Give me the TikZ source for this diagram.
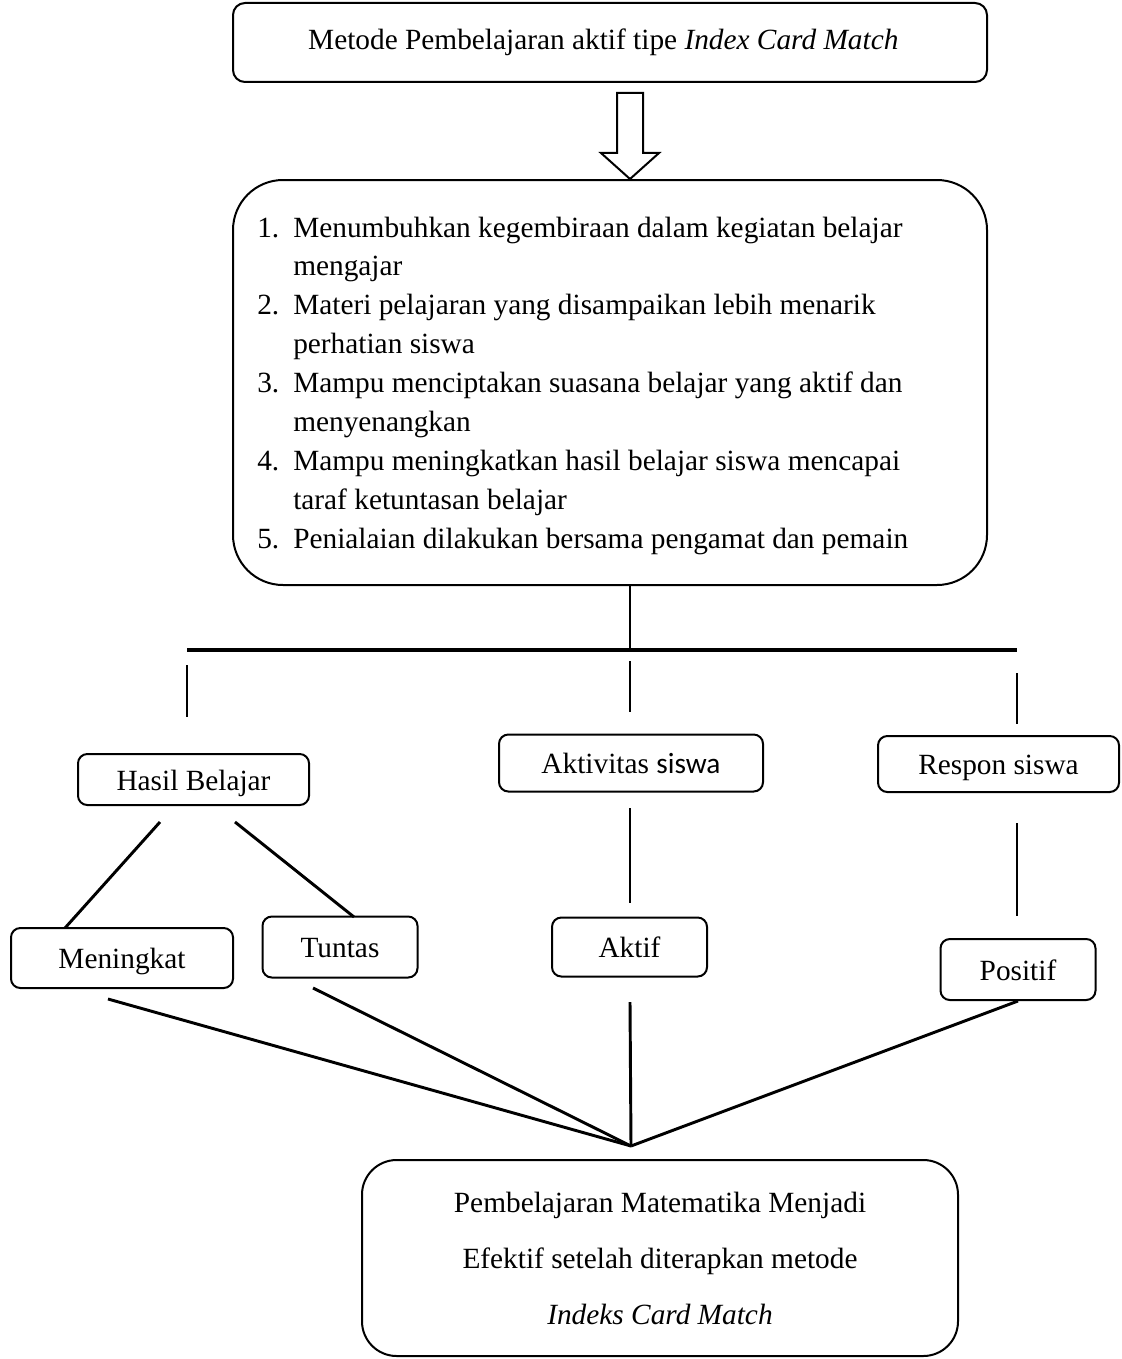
\documentclass[tikz,border=0pt]{standalone}
\usepackage{fontspec}
\setmainfont{Liberation Serif}
\newfontfamily\calibrifont{Carlito}
\usetikzlibrary{calc}
\begin{document}
\begin{tikzpicture}[x=0.75pt,y=-0.75pt,
  box/.style={draw, line width=1.5pt, rounded corners=#1, inner sep=0pt,
    font=\fontsize{22}{26}\selectfont},
  box/.default=7pt,
  small/.style={box, text height=21pt, text depth=5pt},
  conn/.style={line width=2.2pt},
  barline/.style={line width=3pt},
]
\useasboundingbox (0,0) rectangle (1121,1359);

% top box
\node[box=9pt, minimum width=565.5pt, minimum height=59.25pt] (top) at (610,42.5)
  {\hspace*{-10pt}Metode Pembelajaran aktif tipe \textit{Index Card Match}};

% list box
\node[box=37.5pt, minimum width=565.5pt, minimum height=303.75pt] (lst) at (610,382.5) {};
\node[anchor=base west, inner sep=0pt, font=\fontsize{22}{29.2}\selectfont] (lsttext) at (257,237)
  {\begin{tabular}[t]{@{}l@{}l@{}}
   \makebox[27pt][l]{1.} & Menumbuhkan kegembiraan dalam kegiatan belajar\\
   & mengajar\\
   \makebox[27pt][l]{2.} & Materi pelajaran yang disampaikan lebih menarik\\
   & perhatian siswa\\
   \makebox[27pt][l]{3.} & Mampu menciptakan suasana belajar yang aktif dan\\
   & menyenangkan\\
   \makebox[27pt][l]{4.} & Mampu meningkatkan hasil belajar siswa mencapai\\
   & taraf ketuntasan belajar\\
   \makebox[27pt][l]{5.} & Penialaian dilakukan bersama pengamat dan pemain
   \end{tabular}};

% hollow arrow between top box and list box
\coordinate (arrTop) at (630,93);
\coordinate (arrTip) at ($(lst.north)+(20,0)$);
\draw[line width=1.5pt, line join=miter] ($(arrTop)+(-13,0)$) -- ($(arrTop)+(13,0)$) -- (643,153) -- (659,153)
  -- (arrTip) -- (601,153) -- (617,153) -- cycle;

% branch bar
\coordinate (lstOut) at ($(lst.south)+(20,0)$);
\coordinate (barL) at (187,650);
\coordinate (barM) at (630,650);
\coordinate (barR) at (1017,650);
\draw[conn] (lstOut) -- (barM);
\draw[barline] (barL) -- (barR);

\coordinate (vL1) at (187,665); \coordinate (vL2) at (187,717);
\coordinate (vM1) at (630,661); \coordinate (vM2) at (630,712);
\coordinate (vR1) at (1017,673); \coordinate (vR2) at (1017,724);
\draw[conn] (vL1) -- (vL2);
\draw[conn] (vM1) -- (vM2);
\draw[conn] (vR1) -- (vR2);

% second level boxes
\node[small, minimum width=173.25pt, minimum height=38.25pt] (hb) at (193.5,779.5) {Hasil Belajar};
\node[small, minimum width=198pt, minimum height=42.75pt] (akt) at (631,763) {Aktivitas {\calibrifont siswa}};
\node[small, minimum width=180.75pt, minimum height=42pt] (resp) at (998.5,764) {Respon siswa};

% third level boxes
\node[small, minimum width=166.5pt, minimum height=45pt] (men) at (122,958) {Meningkat};
\node[small, minimum width=116.25pt, minimum height=45.75pt] (tun) at (340,947) {Tuntas};
\node[small, minimum width=116.25pt, minimum height=44.25pt] (aktif) at (629.5,947) {Aktif};
\node[small, minimum width=116.25pt, minimum height=45.75pt] (pos) at (1018,969.5) {Positif};

% connectors between levels
\coordinate (hbA) at (160,822); \coordinate (menTop) at (65,928);
\coordinate (hbB) at (235,822); \coordinate (tunTop) at (354,917);
\coordinate (akA) at (630,808); \coordinate (akB) at (630,903);
\coordinate (rA) at (1017,823); \coordinate (rB) at (1017,916);
\draw[conn] (hbA) -- (menTop);
\draw[conn] (hbB) -- (tunTop);
\draw[conn] (akA) -- (akB);
\draw[conn] (rA) -- (rB);

% converging lines
\coordinate (cv) at (631,1146);
\coordinate (menB) at (108,999);
\coordinate (tunB) at (313,988);
\coordinate (aktB) at (630,1002);
\draw[conn] (menB) -- (cv);
\draw[conn] (tunB) -- (cv);
\draw[conn] (aktB) -- (cv);
\draw[conn] (pos.south) -- (cv);

% bottom box
\node[box=26pt, minimum width=447pt, minimum height=147pt, align=center,
  font=\fontsize{22}{42}\selectfont] (bot) at (660,1258)
  {Pembelajaran Matematika Menjadi\\Efektif setelah diterapkan metode\\\textit{Indeks Card Match}};
\end{tikzpicture}
\end{document}
